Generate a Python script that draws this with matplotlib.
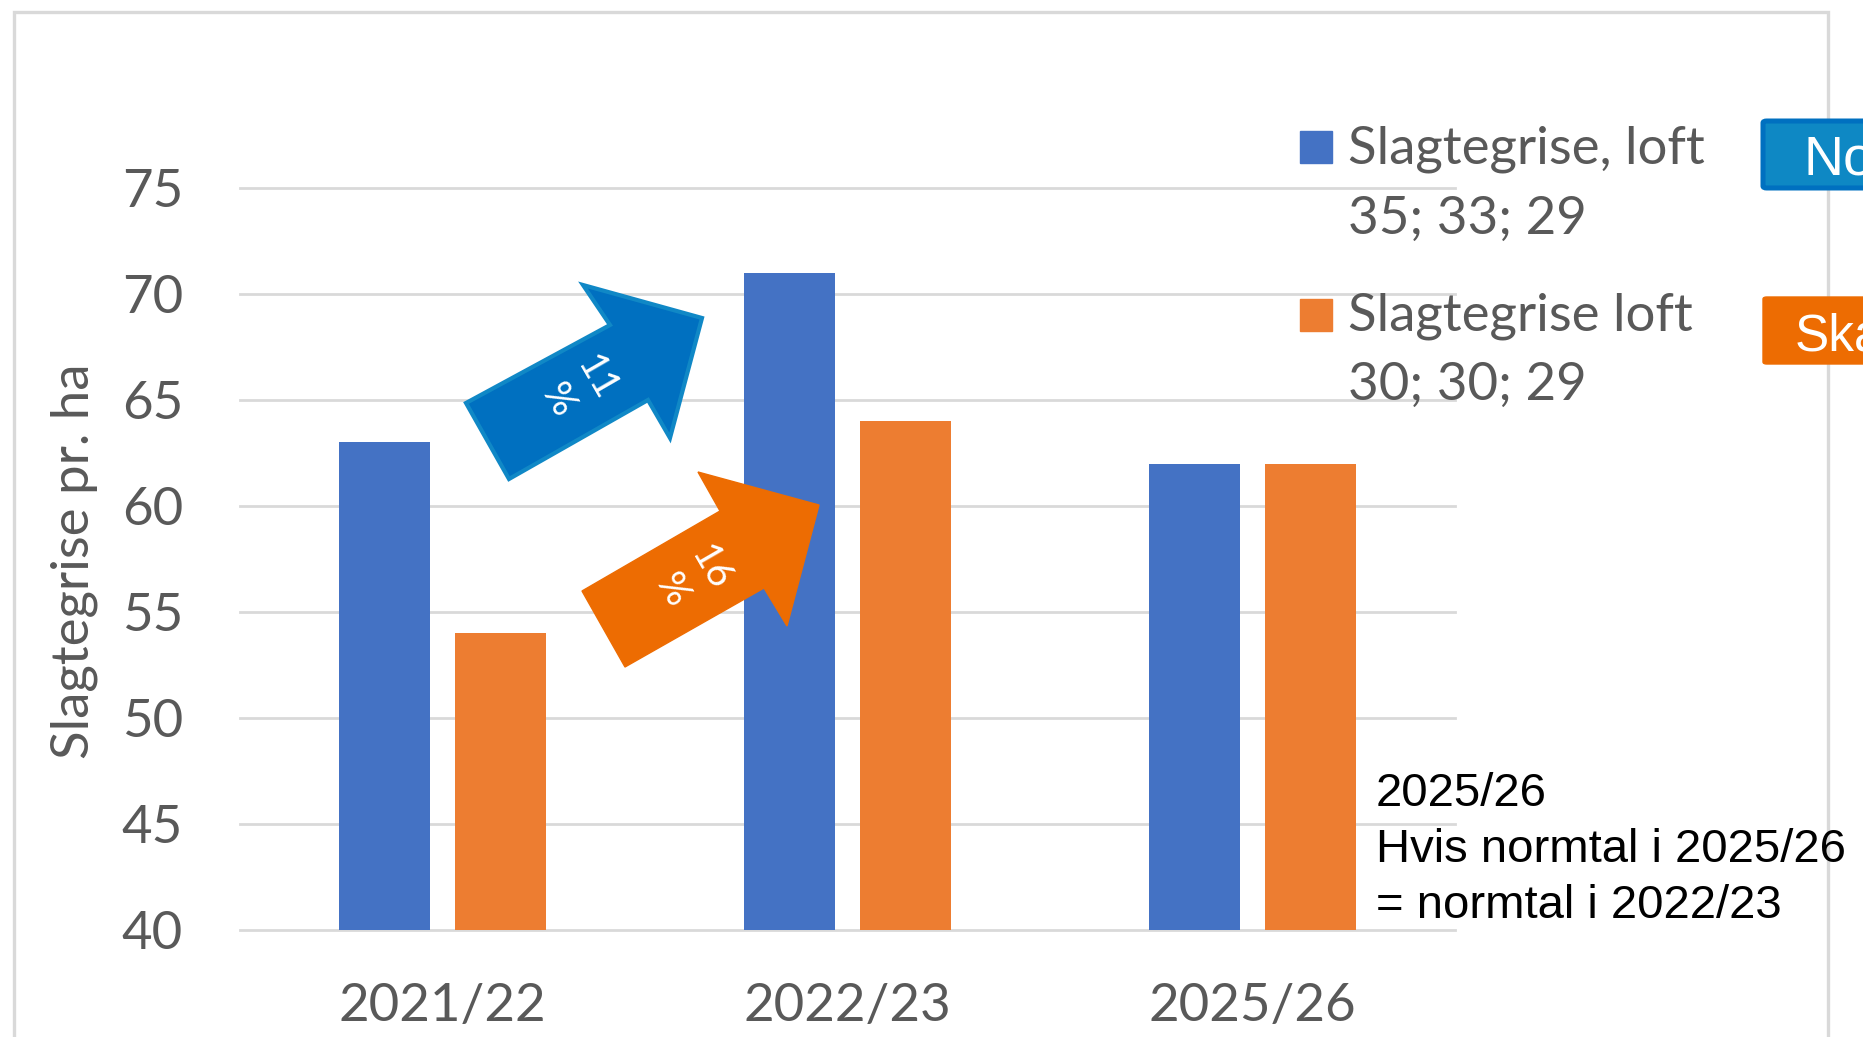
import matplotlib
matplotlib.use("Agg")
import matplotlib.pyplot as plt
from matplotlib.patches import Polygon, Rectangle, FancyBboxPatch
import numpy as np

categories = ["2021/22", "2022/23", "2025/26"]
series_line1 = ["Slagtegrise, loft", "Slagtegrise loft"]
series_line2 = ["35; 33; 29", "30; 30; 29"]
blue_values = [63, 71, 62]
orange_values = [54, 64, 62]
y_ticks = [40, 45, 50, 55, 60, 65, 70, 75]
arrow_labels = ["11\n%", "16\n%"]
note_text = "2025/26\nHvis normtal i 2025/26\n= normtal i 2022/23"
box_labels = ["No", "Ska"]
y_label = "Slagtegrise pr. ha"

plt.rcParams['font.family'] = ['Lato', 'DejaVu Sans']

W, H = 1863, 1037
fig = plt.figure(figsize=(W / 100, H / 100), dpi=100)
fig.patch.set_facecolor("white")


def fx(px):
    return px / W


def fy(py):
    return 1 - py / H


GRAY = "#595959"
GRID = "#D9D9D9"
BLUE = "#4472C4"
ORANGE = "#ED7D31"
FS = 38

# outer chart border
fig.patches.append(Rectangle((fx(14), fy(1060)), (1828 - 14) / W, (1060 - 12) / H,
                             transform=fig.transFigure, fill=False,
                             edgecolor=GRID, lw=2.4, zorder=0))

ax = fig.add_axes([fx(240), fy(930), (1455 - 240) / W, (930 - 188) / H])
ax.set_facecolor("none")
x = np.arange(len(categories))
bw = 0.223
off = 0.143
ax.bar(x - off, blue_values, bw, color=BLUE, zorder=3)
ax.bar(x + off, orange_values, bw, color=ORANGE, zorder=3)
ax.set_xlim(-0.5, 2.5)
ax.set_ylim(40, 75)
ax.set_yticks(y_ticks)
for t in y_ticks:
    ax.axhline(t, color=GRID, lw=2.0, zorder=1, clip_on=False)
for s in ax.spines.values():
    s.set_visible(False)
ax.set_xticks(x)
ax.set_xticklabels(categories)
ax.tick_params(length=0, labelsize=FS, labelcolor=GRAY)
ax.tick_params(axis="y", pad=41)
ax.tick_params(axis="x", pad=38)

fig.text(fx(74), fy(561), y_label, rotation=90, ha="center", va="center",
         fontsize=FS, color=GRAY)

# legend
leg_colors = [BLUE, ORANGE]
leg_sq_top = [131, 299]
leg_l1 = [149, 316]
leg_l2 = [219, 385]
for i in range(2):
    fig.patches.append(Rectangle((fx(1300), fy(leg_sq_top[i] + 32)), 32 / W, 32 / H,
                                 transform=fig.transFigure, color=leg_colors[i], zorder=2))
    fig.text(fx(1348), fy(leg_l1[i]), series_line1[i], ha="left", va="center",
             fontsize=FS, color=GRAY)
    fig.text(fx(1348), fy(leg_l2[i]), series_line2[i], ha="left", va="center",
             fontsize=FS, color=GRAY)

# arrows
blue_arrow = [(466, 403), (610, 325), (583, 285), (702, 318), (670, 438), (648, 400), (509, 479)]
orange_arrow = [(582, 591), (720, 511), (698, 472), (819, 505), (787, 626), (764, 588), (625, 667)]
fig.patches.append(Polygon([(fx(a), fy(b)) for a, b in blue_arrow], closed=True,
                           transform=fig.transFigure, facecolor="#0070C0",
                           edgecolor="#1088C6", lw=3, zorder=5))
fig.patches.append(Polygon([(fx(a), fy(b)) for a, b in orange_arrow], closed=True,
                           transform=fig.transFigure, facecolor="#ED6C02",
                           edgecolor="#ED6C02", lw=1, zorder=5))
fig.text(fx(577), fy(389), arrow_labels[0], rotation=-60, ha="center", va="center",
         rotation_mode="anchor", fontsize=28, color="white", linespacing=1.3,
         multialignment="center", zorder=6)
fig.text(fx(691), fy(579), arrow_labels[1], rotation=-60, ha="center", va="center",
         rotation_mode="anchor", fontsize=28, color="white", linespacing=1.3,
         multialignment="center", zorder=6)

# note
fig.text(fx(1376), fy(850), note_text, ha="left", va="center", fontsize=34,
         family=["Liberation Sans", "DejaVu Sans"], color="black", linespacing=1.35)

# right-hand boxes (cut off at edge)
box_colors = [("#0E88C4", "#0070C0", 3.6), ("#ED6C02", "#ED6C02", 1.0)]
box_y = [(121, 188), (297, 364)]
box_tx = [1804, 1795]
box_base = [175, 351]
box_fs = [40, 37]
for i in range(2):
    y0, y1 = box_y[i]
    fig.patches.append(FancyBboxPatch((fx(1763), fy(y1)), 200 / W, (y1 - y0) / H,
                                      boxstyle="round,pad=0,rounding_size=0.002",
                                      transform=fig.transFigure, facecolor=box_colors[i][0],
                                      edgecolor=box_colors[i][1], lw=box_colors[i][2],
                                      zorder=2))
    fig.text(fx(box_tx[i]), fy(box_base[i]), box_labels[i], ha="left", va="baseline",
             fontsize=box_fs[i], family=["Liberation Sans", "DejaVu Sans"],
             color="white", zorder=3)

fig.savefig("out.png", dpi=100)
